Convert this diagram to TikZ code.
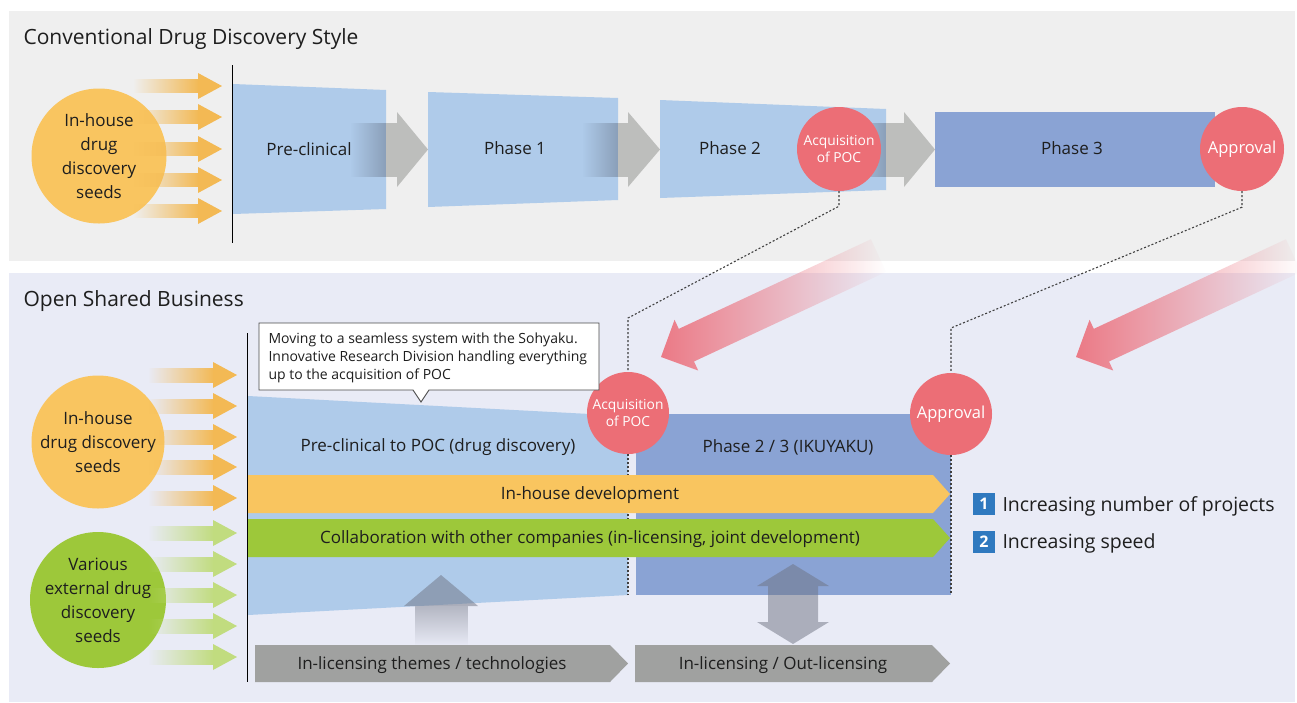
\documentclass[tikz,border=0pt]{standalone}
\usepackage{fontspec}
\setmainfont{Open Sans}
\usetikzlibrary{fadings,calc}
\definecolor{topbg}{HTML}{EFEFEF}
\definecolor{botbg}{HTML}{E9EBF6}
\definecolor{orcirc}{HTML}{F9C560}
\definecolor{orarr}{HTML}{F3B954}
\definecolor{orbar}{HTML}{F9C55F}
\definecolor{grcirc}{HTML}{9DC83A}
\definecolor{grarr}{HTML}{C1DC7F}
\definecolor{ltblue}{HTML}{AFCBEA}
\definecolor{dkblue}{HTML}{8AA3D4}
\definecolor{redc}{HTML}{EC6E76}
\definecolor{pinkarr}{HTML}{EC7A86}
\definecolor{grayarr}{HTML}{BDBEBC}
\definecolor{grayover}{HTML}{8A9FB9}
\definecolor{graybox}{HTML}{A0A1A0}
\definecolor{legblue}{HTML}{2F79BF}
\definecolor{txt}{HTML}{1E1E1E}
\definecolor{shade}{HTML}{6E7382}
\definecolor{shaftgray}{HTML}{B4B7C3}
\definecolor{callline}{HTML}{4A4A4A}
\begin{document}
\begin{tikzpicture}[x=1pt,y=-1pt,
  title/.style={anchor=west, font=\fontsize{21}{24}\selectfont, text=txt},
  seed/.style={circle, inner sep=0pt, align=center, text=txt, font=\fontsize{17}{24}\selectfont},
  milestone/.style={circle, fill=redc, inner sep=0pt, align=center, text=white},
  lbl/.style={text=txt, font=\fontsize{17}{20}\selectfont},
  barlbl/.style={text=txt, font=\fontsize{17}{20}\selectfont},
  dashline/.style={dash pattern=on 2pt off 2pt, line width=1.1pt, color=black!75},
  legsq/.style={fill=legblue, minimum size=22, inner sep=0pt, text=white, font=\bfseries\fontsize{16}{16}\selectfont},
  legtxt/.style={anchor=west, text=txt, font=\fontsize{19.5}{22}\selectfont},
  shadearr/.style={fill=shade, fill opacity=0.5}
]
\useasboundingbox (0,0) rectangle (1297,702);
\fill[white] (0,0) rectangle (1297,702);
\fill[topbg] (9,11) rectangle (1295,261);
\fill[botbg] (9,273) rectangle (1295,702);

% ---------- top panel ----------
\node[title] (t1) at (20,39) {Conventional Drug Discovery Style};

\node[seed, fill=orcirc, minimum size=135] (seedA) at (99,156) {In-house\\drug\\discovery\\seeds};
\foreach \y in {86,117,149,180,211} {
  \fill[orarr, path fading=west] (133,\y-7) rectangle (199,\y+7);
  \fill[orarr] (198,\y-13) -- (222,\y) -- (198,\y+13) -- cycle;
}
\draw[black, line width=1pt] (232,65) -- (232,243);

\fill[ltblue] (233,84) -- (386,90) -- (386,209) -- (233,214) -- cycle;
\node[lbl] (pre) at (309,149.5) {Pre-clinical};
\fill[ltblue] (428,92) -- (618,98) -- (618,200) -- (428,207) -- cycle;
\node[lbl] (ph1) at (515,148) {Phase 1};
\fill[ltblue] (660,100) -- (886,109) -- (886,190) -- (660,198) -- cycle;
\node[lbl] (ph2) at (730,148) {Phase 2};
\fill[dkblue] (935,112) rectangle (1215,187);
\node[lbl] (ph3) at (1072,148) {Phase 3};

% gray step arrows
\fill[grayarr] (386,123) rectangle (398,177);
\fill[grayarr] (397,112) -- (428,149.5) -- (397,187) -- cycle;
\fill[grayover, path fading=west] (350,123) rectangle (386,177);
\fill[grayarr] (618,123) rectangle (629,177);
\fill[grayarr] (628,112) -- (660,149.5) -- (628,187) -- cycle;
\fill[grayover, path fading=west] (582,123) rectangle (618,177);
\fill[grayarr] (886,123) rectangle (905,177);
\fill[grayarr] (904,112) -- (935,149.5) -- (904,187) -- cycle;
\fill[grayover, path fading=west] (850,123) rectangle (886,177);

\node[milestone, minimum size=84, font=\fontsize{13.8}{17}\selectfont] (poc1) at (839,149) {Acquisition\\of POC};
\node[milestone, minimum size=84, font=\fontsize{16.5}{18}\selectfont] (appr1) at (1242,149) {Approval};

% ---------- bottom panel ----------
\node[title] (t2) at (20,301) {Open Shared Business};

\node[seed, fill=orcirc, minimum size=133] (seedB) at (98,442) {In-house\\drug discovery\\seeds};
\node[seed, fill=grcirc, minimum size=136] (seedC) at (98,600) {Various\\external drug\\discovery\\seeds};
\foreach \y in {375,406,437,467,498} {
  \fill[orarr, path fading=west] (148,\y-7.5) rectangle (214,\y+7.5);
  \fill[orarr] (213,\y-13) -- (237,\y) -- (213,\y+13) -- cycle;
}
\foreach \y in {533,564,595,626,657} {
  \fill[grarr, path fading=west] (148,\y-7.5) rectangle (214,\y+7.5);
  \fill[grarr] (213,\y-13) -- (237,\y) -- (213,\y+13) -- cycle;
}
\draw[black, line width=1pt] (247,333) -- (247,682);

\fill[ltblue] (248,396) -- (628,416) -- (628,595) -- (248,615) -- cycle;
\fill[dkblue] (636,414) rectangle (951,595);
\node[lbl] (preb) at (438,447.5) {Pre-clinical to POC (drug discovery)};
\node[lbl] (ph23) at (788,447.5) {Phase 2 / 3 (IKUYAKU)};

\node[milestone, minimum size=82, font=\fontsize{13.8}{17}\selectfont] (poc2) at (628,413) {Acquisition\\of POC};
\node[milestone, minimum size=82, font=\fontsize{16.5}{18}\selectfont] (appr2) at (951,414) {Approval};

% dashed links
\coordinate (pocbend) at (628,318);
\coordinate (apprbend) at (951,328);
\draw[dashline] (poc1.south) -- ++(0,15) -- (pocbend) -- (poc2.north);
\draw[dashline] (appr1.south) -- ++(0,16) -- (apprbend) -- (appr2.north);
\draw[dashline] (poc2.south) -- (628,595);
\draw[dashline] (appr2.south) -- (951,595);

% bars
\fill[orbar] (248,475) -- (933,475) -- (950,494) -- (933,513) -- (248,513) -- cycle;
\node[barlbl] (inhouse) at (590,495.5) {In-house development};
\fill[grcirc] (248,519) -- (933,519) -- (950,538) -- (933,557) -- (248,557) -- cycle;
\node[barlbl] (collab) at (590,539.5) {Collaboration with other companies (in-licensing, joint development)};

% licensing boxes
\fill[graybox] (255,645) -- (610,645) -- (628,663.5) -- (610,682) -- (255,682) -- cycle;
\node[barlbl] (lic1) at (432,665.5) {In-licensing themes / technologies};
\fill[graybox] (635,645) -- (932,645) -- (950,663.5) -- (932,682) -- (635,682) -- cycle;
\node[barlbl] (lic2) at (783,665.5) {In-licensing / Out-licensing};

% faded up arrow and double arrow
\fill[shadearr] (404,606) -- (441,575) -- (478,606) -- cycle;
\fill[shaftgray, path fading=south] (415,606) rectangle (468,646);
\fill[shadearr] (793,564) -- (829,586) -- (818,586) -- (818,622) -- (829,622) -- (793,644)
  -- (757,622) -- (768,622) -- (768,586) -- (757,586) -- cycle;

% callout
\draw[callline, fill=white, line width=0.9pt] (259,323) -- (599,323) -- (599,390) -- (429,390)
  -- (421,402) -- (413,390) -- (259,390) -- cycle;
\node[anchor=west, align=left, text=txt, font=\fontsize{14}{18}\selectfont] (note) at (265,358)
  {Moving to a seamless system with the Sohyaku.\\Innovative Research Division handling everything\\up to the acquisition of POC};

% pink arrows
\begin{scope}[shift={(661,357)}, rotate=25]
  \fill[pinkarr, path fading=east] (0,0) -- (28,-28) -- (28,-18) -- (240,-18) -- (240,18) -- (28,18) -- (28,28) -- cycle;
\end{scope}
\begin{scope}[shift={(1076,357)}, rotate=25]
  \fill[pinkarr, path fading=east] (0,0) -- (28,-28) -- (28,-18) -- (240,-18) -- (240,18) -- (28,18) -- (28,28) -- cycle;
\end{scope}

% legend
\node[legsq] (n1) at (984,503.5) {1};
\node[legtxt] (l1) at (999,506) {Increasing number of projects};
\node[legsq] (n2) at (984,542) {2};
\node[legtxt] (l2) at (999,543) {Increasing speed};
\end{tikzpicture}
\end{document}
